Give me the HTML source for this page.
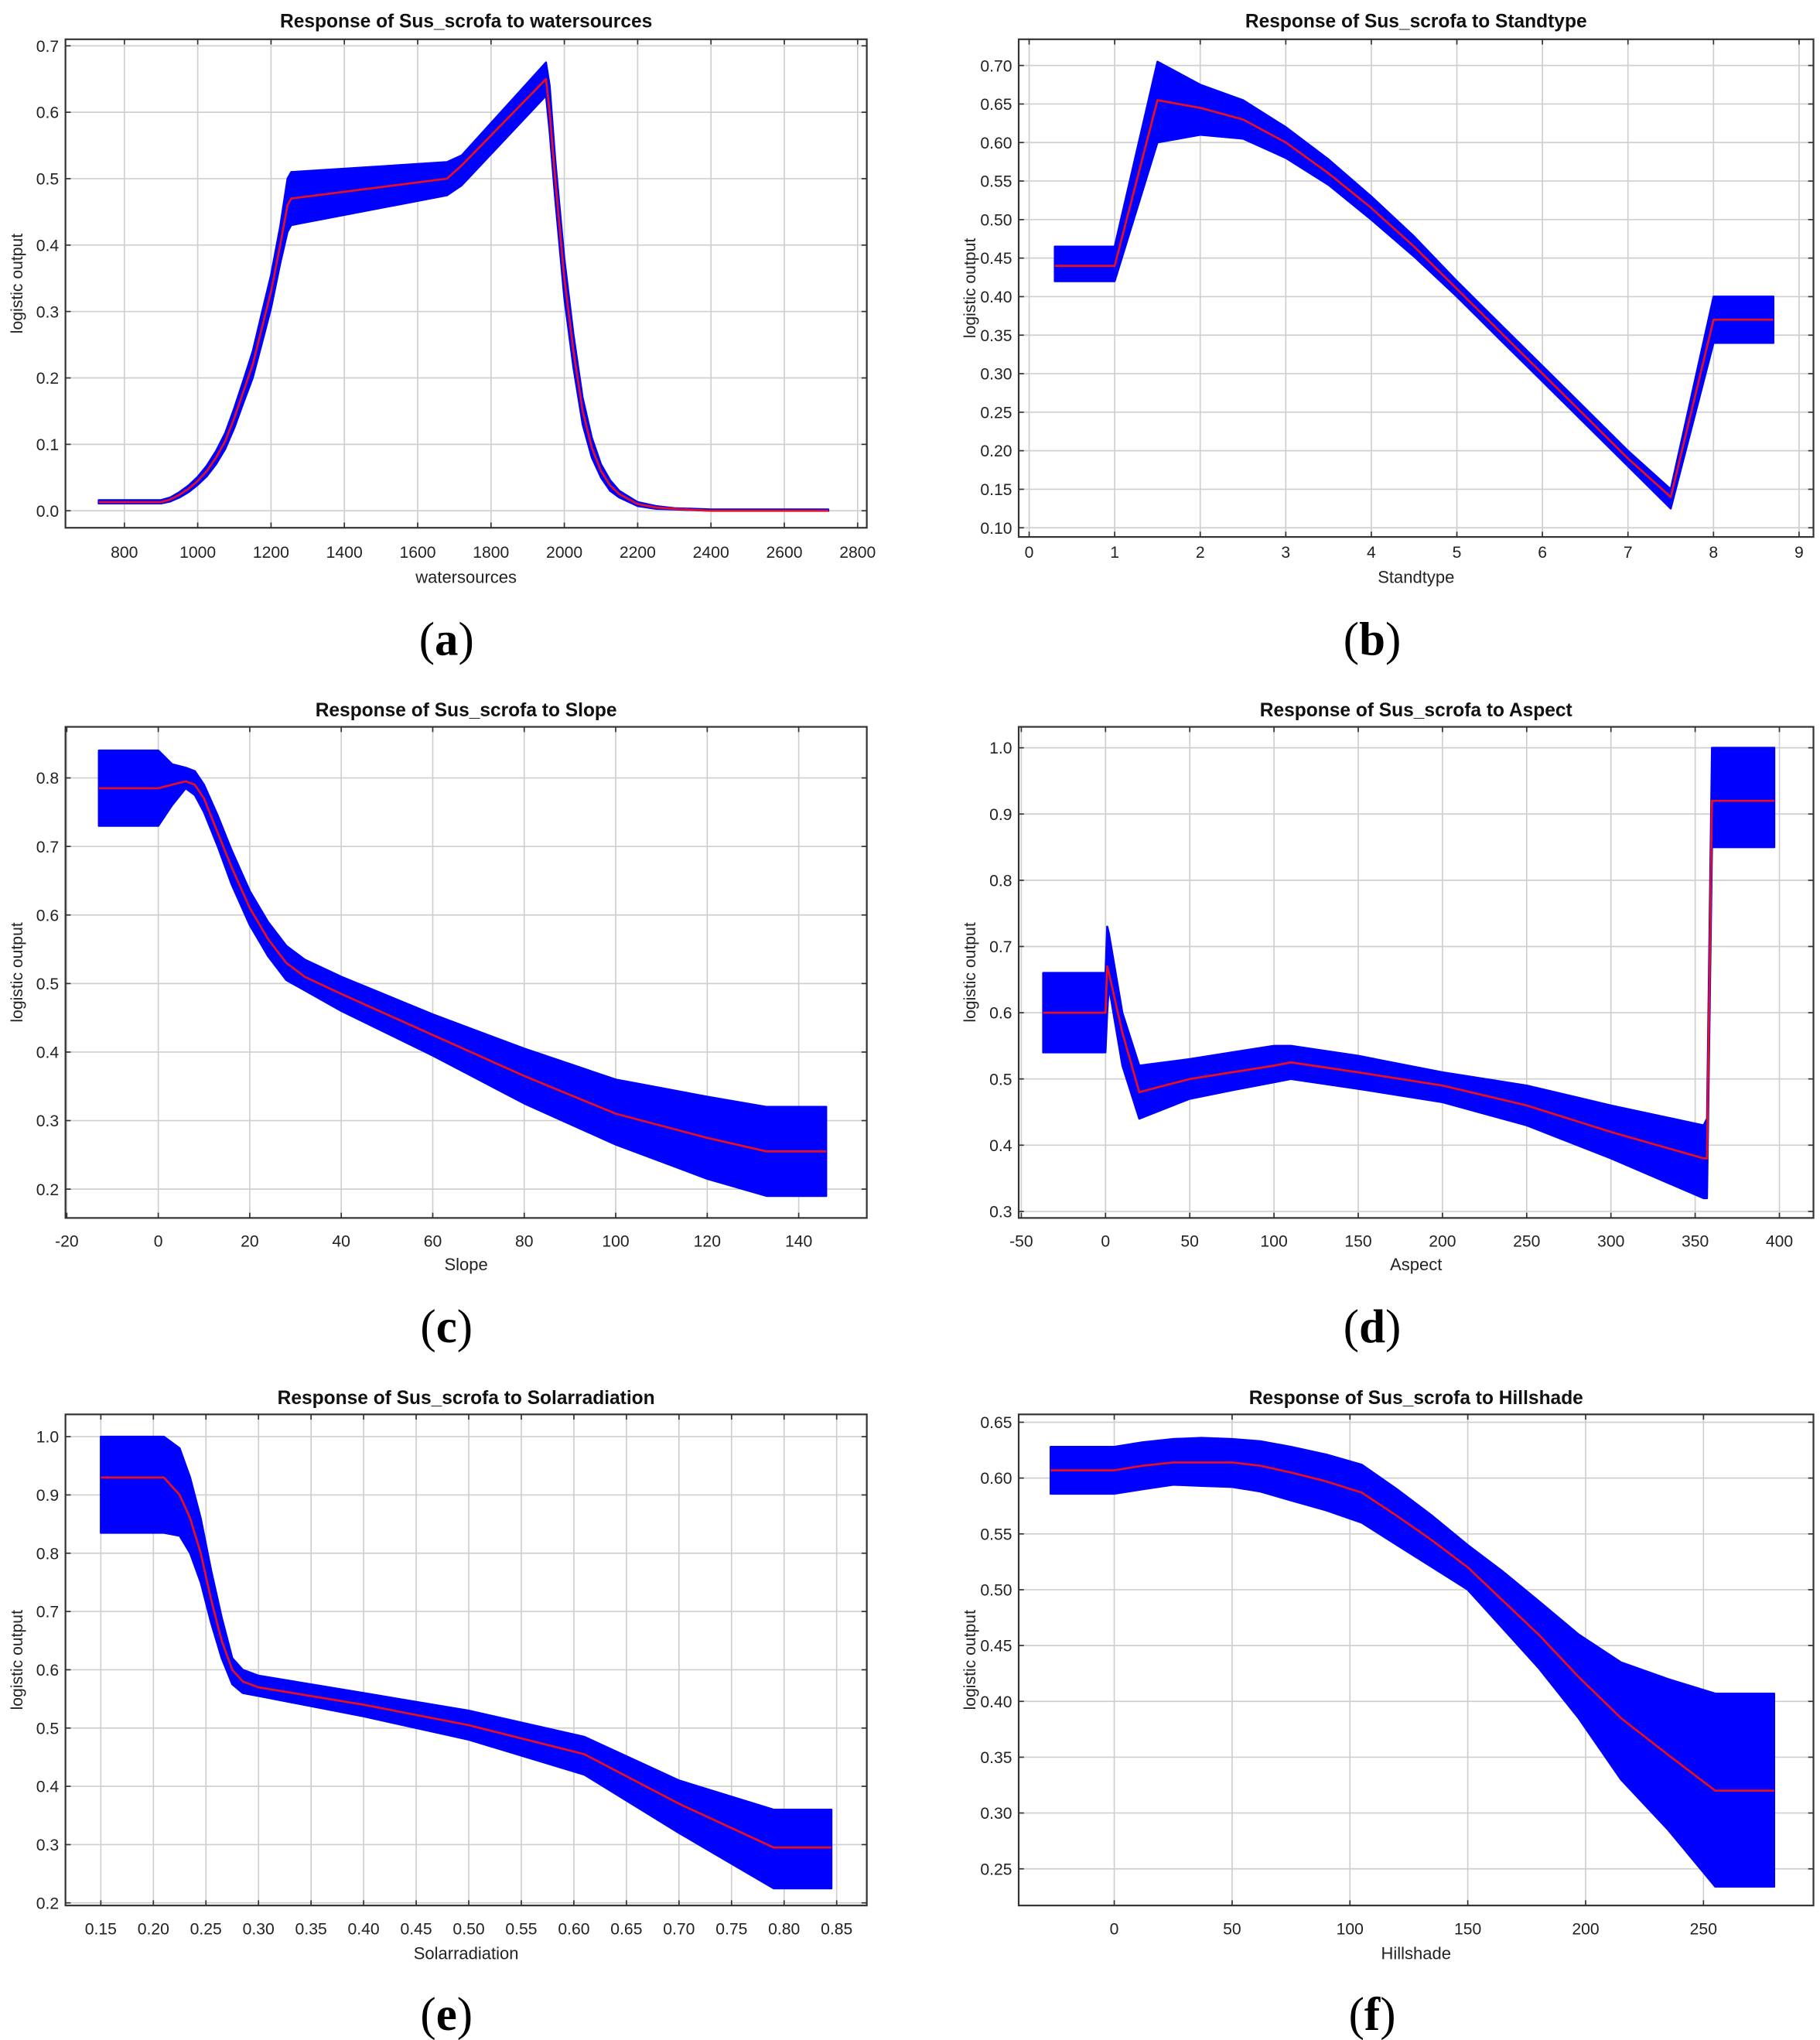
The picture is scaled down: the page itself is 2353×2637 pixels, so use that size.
<!DOCTYPE html>
<html><head><meta charset="utf-8"><style>
html,body{margin:0;padding:0;background:#fff;}
svg{display:block;font-family:"Liberation Sans",sans-serif;}
</style></head><body>
<svg id="fig" width="2353" height="2637" viewBox="0 0 1390 1557.7" preserveAspectRatio="none" xmlns="http://www.w3.org/2000/svg"></svg>
<script>
// ---- data ----
const aX=[730,900,925,950,975,1000,1025,1050,1075,1100,1125,1150,1175,1200,1225,1245,1255,1680,1720,1950,1960,1975,2000,2025,2050,2075,2100,2125,2150,2200,2250,2300,2400,2720];
const aMean=[.013,.013,.017,.024,.033,.045,.06,.08,.105,.14,.18,.22,.275,.33,.40,.46,.47,.50,.52,.65,.60,.50,.35,.24,.15,.095,.06,.038,.025,.01,.005,.003,0,0];
const aLo=[.011,.011,.014,.02,.028,.039,.052,.07,.093,.125,.163,.20,.252,.305,.372,.42,.43,.475,.49,.625,.57,.47,.32,.215,.13,.08,.05,.03,.02,.007,.003,.002,0,0];
const aHi=[.016,.016,.02,.028,.038,.051,.068,.09,.117,.155,.197,.24,.298,.355,.428,.50,.51,.525,.535,.675,.64,.53,.38,.265,.17,.11,.07,.046,.03,.013,.007,.004,.002,.002];
const aXTicks=[800,1000,1200,1400,1600,1800,2000,2200,2400,2600,2800];
const aYTicks=["0.0","0.1","0.2","0.3","0.4","0.5","0.6","0.7"];

const bX=[0.3,1,1.5,2,2.5,3,3.5,4,4.5,5,5.5,6,6.5,7,7.5,8,8.7];
const bMean=[.44,.44,.655,.645,.63,.60,.56,.515,.465,.41,.355,.30,.245,.19,.14,.37,.37];
const bLo=[.42,.42,.6,.61,.605,.58,.545,.50,.452,.40,.345,.29,.235,.18,.125,.34,.34];
const bHi=[.465,.465,.705,.675,.655,.62,.578,.53,.478,.42,.365,.31,.255,.20,.15,.40,.40];
const bXTicks=[0,1,2,3,4,5,6,7,8,9];
const bYTicks=["0.10","0.15","0.20","0.25","0.30","0.35","0.40","0.45","0.50","0.55","0.60","0.65","0.70"];

const cX=[-13,0,3,6,8,10,13,16,20,24,28,32,40,60,80,100,120,133,146];
const cMean=[.785,.785,.79,.795,.79,.77,.72,.67,.61,.565,.53,.51,.485,.425,.365,.31,.275,.255,.255];
const cLo=[.73,.73,.76,.785,.775,.75,.70,.645,.585,.54,.505,.49,.46,.395,.325,.265,.215,.19,.19];
const cHi=[.84,.84,.82,.815,.81,.79,.745,.695,.635,.59,.555,.535,.51,.455,.405,.36,.335,.32,.32];
const cXTicks=[-20,0,20,40,60,80,100,120,140];
const cYTicks=["0.2","0.3","0.4","0.5","0.6","0.7","0.8"];

const dX=[-37,0,1,2,10,20,35,50,75,100,110,150,200,250,300,355,357,360,397];
const dMean=[.60,.60,.67,.66,.57,.48,.49,.50,.51,.52,.525,.51,.49,.46,.42,.38,.38,.92,.92];
const dLo=[.54,.54,.60,.64,.52,.44,.455,.47,.483,.495,.50,.485,.465,.43,.38,.32,.32,.85,.85];
const dHi=[.66,.66,.73,.72,.60,.52,.525,.53,.54,.55,.55,.535,.51,.49,.46,.43,.44,1.0,1.0];
const dXTicks=[-50,0,50,100,150,200,250,300,350,400];
const dYTicks=["0.3","0.4","0.5","0.6","0.7","0.8","0.9","1.0"];

const eX=[.15,.21,.225,.235,.245,.255,.265,.275,.285,.30,.40,.50,.61,.70,.79,.845];
const eMean=[.93,.93,.90,.86,.80,.72,.65,.60,.58,.57,.54,.505,.455,.37,.295,.295];
const eLo=[.835,.835,.83,.80,.75,.68,.62,.575,.56,.555,.52,.48,.42,.32,.225,.225];
const eHi=[1.0,1.0,.98,.93,.86,.77,.69,.62,.60,.59,.56,.53,.485,.41,.36,.36];
const eXTicks=["0.15","0.20","0.25","0.30","0.35","0.40","0.45","0.50","0.55","0.60","0.65","0.70","0.75","0.80","0.85"];
const eYTicks=["0.2","0.3","0.4","0.5","0.6","0.7","0.8","0.9","1.0"];

const fX=[-27,0,12,25,37,50,62,75,90,105,120,135,150,165,180,197,215,235,255,280];
const fMean=[.607,.607,.611,.614,.614,.614,.611,.605,.597,.587,.566,.544,.52,.49,.46,.422,.385,.352,.32,.32];
const fLo=[.586,.586,.590,.594,.593,.592,.588,.58,.571,.56,.54,.52,.50,.465,.43,.385,.33,.285,.234,.234];
const fHi=[.628,.628,.632,.635,.636,.635,.633,.628,.621,.612,.59,.566,.54,.516,.49,.46,.435,.42,.407,.407];
const fXTicks=[0,50,100,150,200,250];
const fYTicks=["0.25","0.30","0.35","0.40","0.45","0.50","0.55","0.60","0.65"];

// ---- layout ----
const panels=[
 {id:"a",title:"Response of Sus_scrofa to watersources",xl:"watersources",f:[50,30,662,403],xa:[800,95,2800,655],ya:[0,390,0.7,35],X:aX,M:aMean,L:aLo,H:aHi,xt:aXTicks,yt:aYTicks,ty:16,xly:421,xty:440,lx:341,ly:488},
 {id:"b",title:"Response of Sus_scrofa to Standtype",xl:"Standtype",f:[778,30,1385,410],xa:[0,786,9,1374],ya:[0.10,403,0.70,50],X:bX,M:bMean,L:bLo,H:bHi,xt:bXTicks,yt:bYTicks,ty:16,xly:421,xty:440,lx:1048,ly:488},
 {id:"c",title:"Response of Sus_scrofa to Slope",xl:"Slope",f:[50,555,662,930],xa:[-20,51,140,610],ya:[0.2,908,0.8,594],X:cX,M:cMean,L:cLo,H:cHi,xt:cXTicks,yt:cYTicks,ty:542,xly:947,xty:965,lx:341,ly:1013},
 {id:"d",title:"Response of Sus_scrofa to Aspect",xl:"Aspect",f:[778,555,1385,930],xa:[-50,780,400,1359],ya:[0.3,925,1.0,571],X:dX,M:dMean,L:dLo,H:dHi,xt:dXTicks,yt:dYTicks,ty:542,xly:947,xty:965,lx:1048,ly:1013},
 {id:"e",title:"Response of Sus_scrofa to Solarradiation",xl:"Solarradiation",f:[50,1080,662,1455],xa:[0.15,77,0.85,639],ya:[0.2,1453,1.0,1097],X:eX,M:eMean,L:eLo,H:eHi,xt:eXTicks,yt:eYTicks,ty:1067,xly:1472,xty:1491,lx:341,ly:1538},
 {id:"f",title:"Response of Sus_scrofa to Hillshade",xl:"Hillshade",f:[778,1080,1385,1455],xa:[0,851,250,1301],ya:[0.25,1427,0.65,1086],X:fX,M:fMean,L:fLo,H:fHi,xt:fXTicks,yt:fYTicks,ty:1067,xly:1472,xty:1491,lx:1048,ly:1538}
];
const NS="http://www.w3.org/2000/svg";
const svg=document.getElementById("fig");
function mk(tag,attrs,parent){const e=document.createElementNS(NS,tag);for(const k in attrs)e.setAttribute(k,attrs[k]);(parent||svg).appendChild(e);return e;}
panels.forEach(p=>{
 const g=mk("g",{});
 
 
 const [x0,y0,x1,y1]=p.f;
 const sx=v=>p.xa[1]+(v-p.xa[0])*(p.xa[3]-p.xa[1])/(p.xa[2]-p.xa[0]);
 const sy=v=>p.ya[1]+(v-p.ya[0])*(p.ya[3]-p.ya[1])/(p.ya[2]-p.ya[0]);
 mk("rect",{x:x0,y:y0,width:x1-x0,height:y1-y0,fill:"#fff"},g);
 const grid=mk("g",{stroke:"#cfcfcf","stroke-width":1},g);
 
 
 const xtg=mk("g",{"font-size":12.5,"text-anchor":"middle",fill:"#222"},g);
 
 
 p.xt.forEach(t=>{const X=sx(parseFloat(t));
  mk("line",{x1:X,x2:X,y1:y0,y2:y1},grid);
  mk("line",{x1:X,x2:X,y1:y1,y2:y1-4,stroke:"#333"},g);
  mk("line",{x1:X,x2:X,y1:y0,y2:y0+4,stroke:"#333"},g);
  const tx=mk("text",{x:X,y:p.xly+5},xtg);tx.textContent=t;});
 const ytg=mk("g",{"font-size":12.5,"text-anchor":"end",fill:"#222"},g);
 
 
 p.yt.forEach(t=>{const Y=sy(parseFloat(t));
  mk("line",{x1:x0,x2:x1,y1:Y,y2:Y},grid);
  mk("line",{x1:x0,x2:x0+4,y1:Y,y2:Y,stroke:"#333"},g);
  mk("line",{x1:x1,x2:x1-4,y1:Y,y2:Y,stroke:"#333"},g);
  const tx=mk("text",{x:x0-5,y:Y+4.5},ytg);tx.textContent=t;});
 let d="M"+p.X.map((v,i)=>sx(v).toFixed(1)+","+sy(p.H[i]).toFixed(1)).join("L");
 for(let i=p.X.length-1;i>=0;i--)d+="L"+sx(p.X[i]).toFixed(1)+","+sy(p.L[i]).toFixed(1);
 const band=mk("path",{d:d+"Z",fill:"#0000ff",stroke:"#0000ff","stroke-width":1.5,"stroke-linejoin":"round"},g);
 
 
 const line=mk("polyline",{points:p.X.map((v,i)=>sx(v).toFixed(1)+","+sy(p.M[i]).toFixed(1)).join(" "),fill:"none",stroke:"#e8101e","stroke-width":1.6,"stroke-linejoin":"round"},g);
 
 
 const fr=mk("rect",{x:x0,y:y0,width:x1-x0,height:y1-y0,fill:"none",stroke:"#333","stroke-width":1.3},g);
 
 
 const tt=mk("text",{x:(x0+x1)/2,y:p.ty+5,"font-size":14.5,"font-weight":"bold","text-anchor":"middle",fill:"#111"},g);
 tt.textContent=p.title;
 
 
 const xt=mk("text",{x:(x0+x1)/2,y:p.xty+5,"font-size":13,"text-anchor":"middle",fill:"#222"},g);
 xt.textContent=p.xl;
 
 
 const yc=(y0+y1)/2;
 const yl=mk("text",{x:x0-33,y:yc,"font-size":12.5,"text-anchor":"middle",fill:"#222",transform:"rotate(-90 "+(x0-33)+" "+yc+")"},g);
 yl.textContent="logistic output";
 
 
 const lb=mk("text",{x:p.lx,y:p.ly+12,"font-size":36,"font-family":"Liberation Serif, serif","text-anchor":"middle",fill:"#000"},g);
 lb.innerHTML='(<tspan font-weight="bold">'+p.id+'</tspan>)';
 
 
});
</script>
</body></html>
